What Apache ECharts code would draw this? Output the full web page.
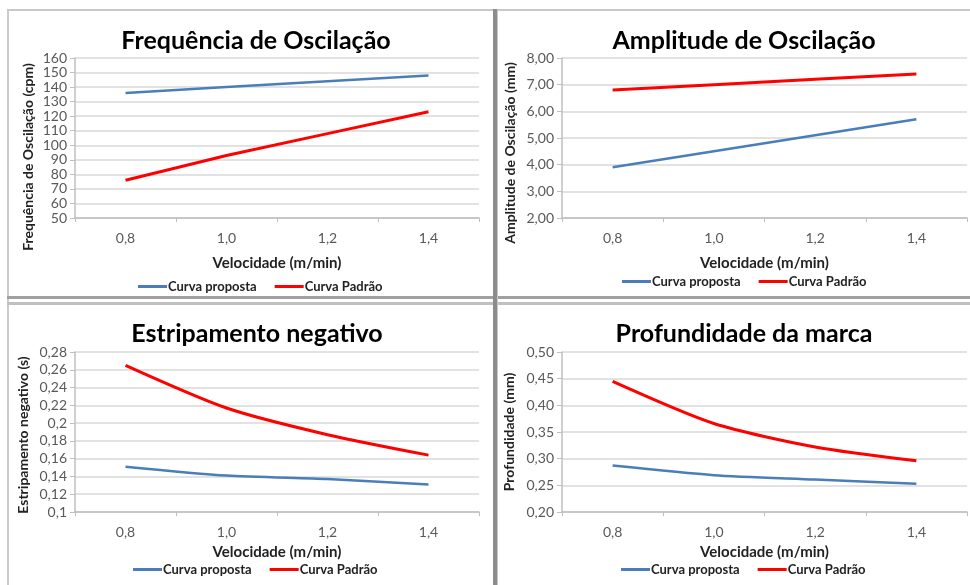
<!DOCTYPE html>
<html>
<head>
<meta charset="utf-8">
<script src="https://cdn.jsdelivr.net/npm/echarts@6/dist/echarts.min.js"></script>
<style>html,body{margin:0;padding:0;background:#fff}#c{width:970px;height:585px}</style>
</head>
<body>
<div id="c"></div>
<script>
// ---- data ----
const categories = ['0,8', '1,0', '1,2', '1,4'];
const seriesNames = ['Curva proposta', 'Curva Padrão'];

const freqProposta = [136, 140, 144, 148];
const freqPadrao = [76, 93, 108, 123];

const ampProposta = [3.9, 4.5, 5.1, 5.7];
const ampPadrao = [6.8, 7.0, 7.2, 7.4];

const estrProposta = [0.151, 0.141, 0.137, 0.131];
const estrPadrao = [0.265, 0.217, 0.187, 0.164];

const profProposta = [0.287, 0.269, 0.261, 0.253];
const profPadrao = [0.445, 0.366, 0.322, 0.296];

const titles = ['Frequência de Oscilação', 'Amplitude de Oscilação', 'Estripamento negativo', 'Profundidade da marca'];
const yNames = ['Frequência de Oscilação (cpm)', 'Amplitude de Oscilação (mm)', 'Estripamento negativo (s)', 'Profundidade (mm)'];
const xName = 'Velocidade (m/min)';

// ---- chart ----
const FONT = 'Lato, "Open Sans", sans-serif';
const BLUE = '#4a7ebb', RED = '#ff0000';

const panels = [
  {grid: {left: 75, top: 58, width: 404, height: 160}, y: {min: 50, max: 160, interval: 10, fmt: v => String(v)}, nameGapY: 40, namePadY: [0, 38, 0, 0], nameGapX: 38, title: [251, 23], legend: [133, 275], data: [freqProposta, freqPadrao]},
  {grid: {left: 562, top: 58, width: 405, height: 160}, y: {min: 2, max: 8, interval: 1, fmt: v => v.toFixed(2).replace('.', ',')}, nameGapY: 45, namePadY: [0, 30, 0, 0], nameGapX: 38, title: [739, 23], legend: [617, 270], data: [ampProposta, ampPadrao]},
  {grid: {left: 75, top: 352, width: 404, height: 160}, y: {min: 0.1, max: 0.28, interval: 0.02, fmt: v => String(Math.round(v * 100) / 100).replace('.', ',')}, nameGapY: 45, namePadY: [0, 6, 0, 0], nameGapX: 33, title: [252, 316], legend: [128, 558], data: [estrProposta, estrPadrao]},
  {grid: {left: 562, top: 352, width: 405, height: 160}, y: {min: 0.2, max: 0.5, interval: 0.05, fmt: v => v.toFixed(2).replace('.', ',')}, nameGapY: 46, namePadY: [0, 0, 0, 0], nameGapX: 33, title: [739, 316], legend: [616, 558], data: [profProposta, profPadrao]}
];

const option = {
  animation: false,
  backgroundColor: '#ffffff',
  textStyle: {fontFamily: FONT},
  title: [], legend: [], grid: [], xAxis: [], yAxis: [], series: [],
  graphic: [
    // borders / dividers
    {type: 'rect', shape: {x: 7, y: 9, width: 963, height: 2}, style: {fill: '#c8c8c8'}, silent: true},
    {type: 'rect', shape: {x: 7, y: 9, width: 2, height: 576}, style: {fill: '#cccccc'}, silent: true},
    {type: 'rect', shape: {x: 7, y: 296, width: 963, height: 3}, style: {fill: '#a0a0a0'}, silent: true},
    {type: 'rect', shape: {x: 7, y: 302, width: 963, height: 3}, style: {fill: '#c0c0c0'}, silent: true},
    {type: 'rect', shape: {x: 493, y: 9, width: 4, height: 576}, style: {fill: '#8c8c8c'}, silent: true},
    {type: 'rect', shape: {x: 497, y: 9, width: 1, height: 576}, style: {fill: '#c8c8c8'}, silent: true}
  ]
};

panels.forEach((p, i) => {
  option.title.push({
    text: titles[i], left: p.title[0], top: p.title[1], textAlign: 'center',
    textStyle: {fontFamily: FONT, fontWeight: 'bold', fontSize: 25, color: '#000'}
  });
  option.legend.push({
    data: seriesNames.map(n => ({name: n})),
    left: p.legend[0], top: p.legend[1], orient: 'horizontal',
    icon: 'rect', itemWidth: 29, itemHeight: 3, itemGap: 18,
    textStyle: {fontFamily: FONT, fontWeight: 'bold', fontSize: 13, color: '#222', padding: [0, 0, 0, -4]},
    selectedMode: false
  });
  option.grid.push(Object.assign({containLabel: false}, p.grid));
  option.xAxis.push({
    type: 'category', gridIndex: i, data: categories, boundaryGap: true,
    name: xName, nameLocation: 'middle', nameGap: p.nameGapX,
    nameTextStyle: {fontFamily: FONT, fontWeight: 'bold', fontSize: 15, color: '#222'},
    axisLine: {show: true, lineStyle: {color: '#bfbfbf', width: 1.5}},
    axisTick: {show: true, length: 4, alignWithLabel: false, lineStyle: {color: '#bfbfbf'}},
    axisLabel: {margin: 13, fontFamily: FONT, fontSize: 14, color: '#595959'},
    splitLine: {show: false}
  });
  option.yAxis.push({
    type: 'value', gridIndex: i, min: p.y.min, max: p.y.max, interval: p.y.interval,
    name: yNames[i], nameLocation: 'middle', nameRotate: 90, nameGap: p.nameGapY,
    nameTextStyle: {fontFamily: FONT, fontWeight: 'bold', fontSize: 14, color: '#222', padding: p.namePadY},
    axisLine: {show: true, lineStyle: {color: '#bfbfbf', width: 1.5}},
    axisTick: {show: true, length: 5, lineStyle: {color: '#bfbfbf'}},
    axisLabel: {margin: 8, fontFamily: FONT, fontSize: 14, color: '#595959', formatter: p.y.fmt},
    splitLine: {show: true, lineStyle: {color: '#d9d9d9', width: 1.5}}
  });
  const smooth = i >= 2 ? 0.25 : false;
  option.series.push({
    name: seriesNames[0], type: 'line', xAxisIndex: i, yAxisIndex: i, data: p.data[0],
    symbol: 'none', smooth: smooth, lineStyle: {color: BLUE, width: 2.5}, itemStyle: {color: BLUE}
  });
  option.series.push({
    name: seriesNames[1], type: 'line', xAxisIndex: i, yAxisIndex: i, data: p.data[1],
    symbol: 'none', smooth: smooth, lineStyle: {color: RED, width: 3}, itemStyle: {color: RED}
  });
});

const chart = echarts.init(document.getElementById('c'), null, {renderer: 'canvas'});
chart.setOption(option);
</script>
</body>
</html>
